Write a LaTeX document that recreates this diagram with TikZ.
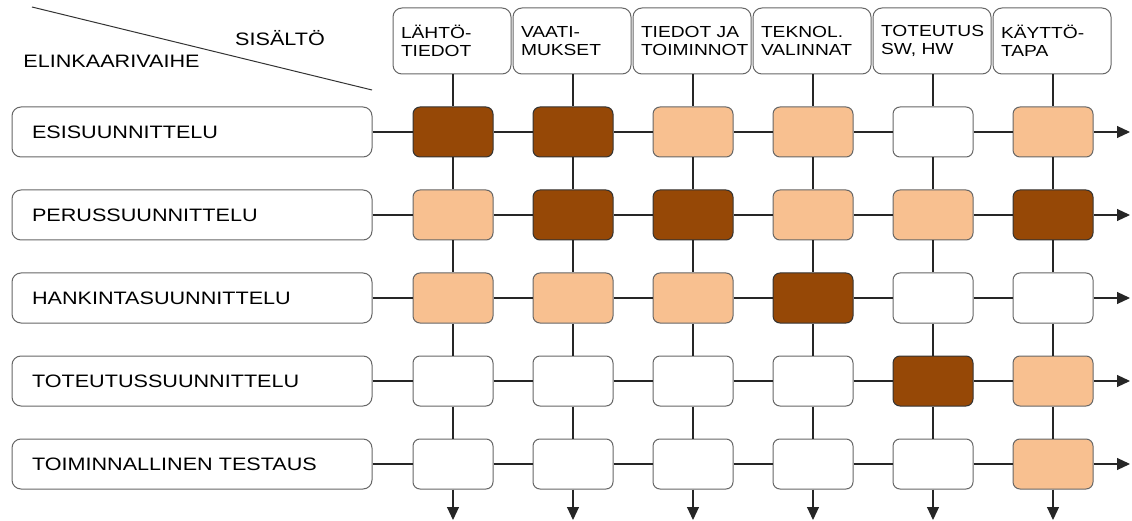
\documentclass[tikz,border=0pt]{standalone}
\usepackage{fontspec}
\setmainfont{Liberation Sans}[FakeStretch=1.2]
\usetikzlibrary{arrows.meta}
\definecolor{darkbrown}{RGB}{150,72,6}
\definecolor{peach}{RGB}{248,192,144}

\begin{document}
\begin{tikzpicture}[x=1pt, y=-1pt, line width=1pt,
        cell/.style = {draw=black!60, rounded corners=7pt, minimum width=80pt, minimum height=50pt, inner sep=0pt},
        dk/.style = {fill=darkbrown, draw=black!80},
        lt/.style = {fill=peach},
        wh/.style = {fill=white},
        head/.style = {draw=black!60, rounded corners=9pt, minimum width=118pt, minimum height=66pt,
            text width=102pt, align=left, inner sep=0pt, font=\fontsize{16}{18}\selectfont},
        phase/.style = {draw=black!60, rounded corners=9pt, minimum height=50pt, text width=320pt,
            inner xsep=20pt, inner ysep=0pt, align=left, font=\fontsize{18}{20}\selectfont},
        link/.style = {draw=black!85, line width=1.1pt},
        tip/.style = {-{Triangle[length=13pt,width=12pt]}}]
        \useasboundingbox (0,0) rectangle (1132,521);

        \coordinate (d1) at (32,7);
        \coordinate (d2) at (372,90);
        \draw[black!80] (d1) -- (d2);
        \node[font=\fontsize{18}{20}\selectfont] (sis) at (280,38.5) {SISÄLTÖ};
        \node[font=\fontsize{18}{20}\selectfont] (eli) at (111.5,61.5) {ELINKAARIVAIHE};

        \foreach \t [count=\j] in {{LÄHTÖ-\\TIEDOT},{VAATI-\\MUKSET},{TIEDOT JA\\TOIMINNOT},
                {TEKNOL.\\VALINNAT},{TOTEUTUS\\SW, HW},{KÄYTTÖ-\\TAPA}}{
            \node[head] (h\j) at (452+120*\j-120,41) {\t};
        }

        \foreach \r/\t in {1/ESISUUNNITTELU,2/PERUSSUUNNITTELU,3/HANKINTASUUNNITTELU,
                4/TOTEUTUSSUUNNITTELU,5/TOIMINNALLINEN TESTAUS}{
            \node[phase] (p\r) at (192,132+83*\r-83) {\t};
        }

        \foreach \r/\cols in {1/{dk,dk,lt,lt,wh,lt},2/{lt,dk,dk,lt,lt,dk},3/{lt,lt,lt,dk,wh,wh},
                4/{wh,wh,wh,wh,dk,lt},5/{wh,wh,wh,wh,wh,lt}}{
            \foreach \c [count=\j] in \cols{
                \node[cell,\c] (c\r-\j) at (453+120*\j-120,132+83*\r-83) {};
            }
        }

        \foreach \r in {1,...,5}{
            \draw[link] (p\r) -- (c\r-1);
            \foreach \j in {1,...,5}{
                \pgfmathtruncatemacro\k{\j+1}
                \draw[link] (c\r-\j) -- (c\r-\k);
            }
            \coordinate (e\r) at (1130,132+83*\r-83);
            \draw[link,tip] (c\r-6) -- (e\r);
        }

        \foreach \j in {1,...,6}{
            \draw[link] (h\j.south -| c1-\j) -- (c1-\j);
            \foreach \r in {1,...,4}{
                \pgfmathtruncatemacro\s{\r+1}
                \draw[link] (c\r-\j) -- (c\s-\j);
            }
            \coordinate (b\j) at (453+120*\j-120,520);
            \draw[link,tip] (c5-\j) -- (b\j);
        }
    \end{tikzpicture}
\end{document}
